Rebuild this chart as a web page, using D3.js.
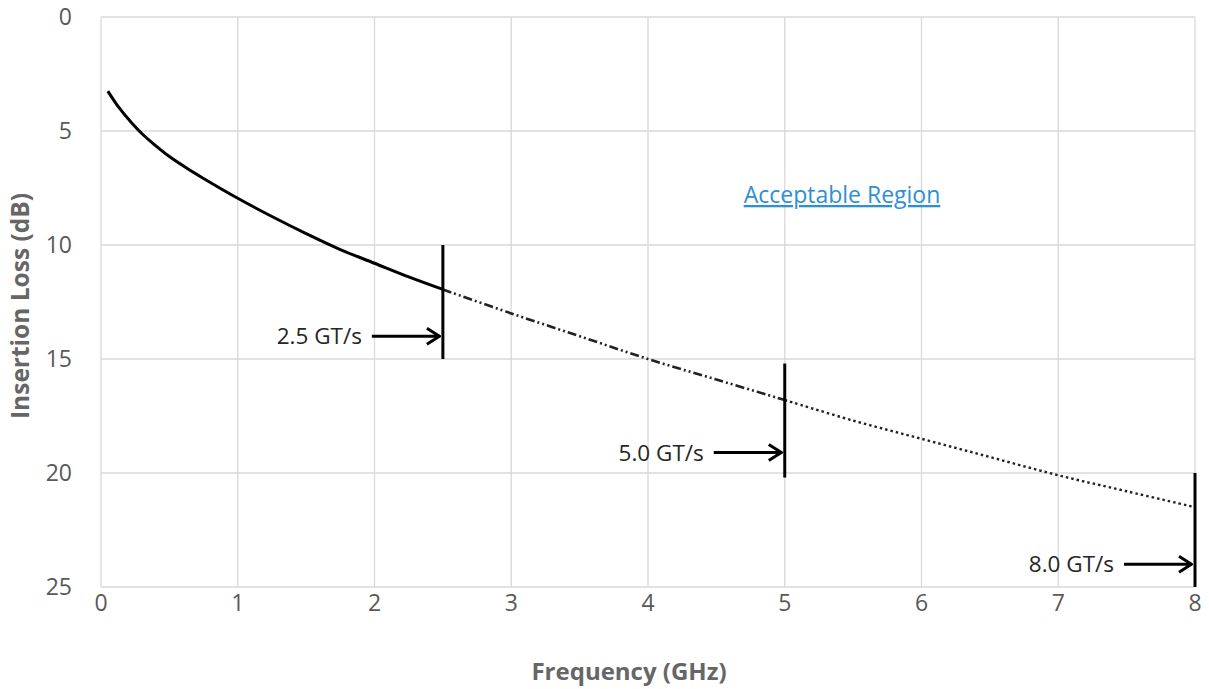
<!DOCTYPE html>
<html>
<head>
<meta charset="utf-8">
<script src="https://cdn.jsdelivr.net/npm/d3@7"></script>
<style>
  body { margin: 0; background: #fff; }
  text { font-family: "Open Sans", "Noto Sans", sans-serif; }
</style>
</head>
<body>
<div id="chart"></div>
<script>
// Insertion loss curve (GHz, dB)
var freq = [0.05, 0.125, 0.225, 0.3, 0.375, 0.5, 0.625, 0.75, 1, 1.25, 1.5, 1.75, 2, 2.25, 2.5,
            3, 3.5, 4, 4.5, 5, 5.5, 6, 6.5, 7, 7.5, 8];
var loss = [3.25, 3.92, 4.65, 5.12, 5.52, 6.12, 6.62, 7.08, 7.95, 8.75, 9.5, 10.2, 10.8, 11.4, 11.95,
            13.0, 14.0, 15.0, 15.9, 16.8, 17.7, 18.5, 19.3, 20.1, 20.8, 21.5];

// Data rate markers: position, vertical extent, arrow level, label
var rates = ["2.5 GT/s", "5.0 GT/s", "8.0 GT/s"];
var rateFreq = [2.5, 5, 8];
var rateTop = [10, 15.2, 20];
var rateBottom = [15, 20.2, 25];
var rateArrow = [14, 19.1, 24];

var xTicks = [0, 1, 2, 3, 4, 5, 6, 7, 8];
var yTicks = [0, 5, 10, 15, 20, 25];

var width = 1209, height = 689;
var padLeft = 101, padRight = 1195, padTop = 17, padBottom = 587;

var svg = d3.select("#chart").append("svg")
	.attr("width", width)
	.attr("height", height);

var x = d3.scaleLinear().domain([0, 8]).range([padLeft, padRight]);
var y = d3.scaleLinear().domain([0, 25]).range([padTop, padBottom]);

// Grid
svg.append("g").selectAll("line").data(xTicks).enter().append("line")
	.attr("x1", function(d) { return x(d); }).attr("x2", function(d) { return x(d); })
	.attr("y1", padTop).attr("y2", padBottom)
	.attr("stroke", "#d9d9d9").attr("stroke-width", 1.3);
svg.append("g").selectAll("line").data(yTicks).enter().append("line")
	.attr("x1", padLeft).attr("x2", padRight)
	.attr("y1", function(d) { return y(d); }).attr("y2", function(d) { return y(d); })
	.attr("stroke", "#d9d9d9").attr("stroke-width", 1.3);

// Tick labels
svg.append("g").selectAll("text").data(yTicks).enter().append("text")
	.attr("x", 72).attr("y", function(d) { return y(d); })
	.attr("dy", "0.36em").attr("text-anchor", "end")
	.attr("font-size", 23).attr("fill", "#595959")
	.text(function(d) { return d; });
svg.append("g").selectAll("text").data(xTicks).enter().append("text")
	.attr("x", function(d) { return x(d); }).attr("y", 611)
	.attr("text-anchor", "middle")
	.attr("font-size", 23).attr("fill", "#595959")
	.text(function(d) { return d; });

// Axis titles
svg.append("text")
	.attr("x", 629).attr("y", 680)
	.attr("text-anchor", "middle").attr("font-size", 24).attr("font-weight", "bold")
	.attr("fill", "#666").text("Frequency (GHz)");
svg.append("text")
	.attr("transform", "translate(29,306) rotate(-90)")
	.attr("text-anchor", "middle").attr("font-size", 24.5).attr("font-weight", "bold")
	.attr("fill", "#666").text("Insertion Loss (dB)");

// Curve in three styled segments
var pts = freq.map(function(f, i) { return [f, loss[i]]; });
var line = d3.line().x(function(d) { return x(d[0]); }).y(function(d) { return y(d[1]); })
	.curve(d3.curveCatmullRom.alpha(0.5));
var segs = [
	{ lo: 0, hi: 2.5, dash: null, w: 3 },
	{ lo: 2.5, hi: 5, dash: "9,3,2,3,2,3", w: 2.6 },
	{ lo: 5, hi: 8, dash: "2.5,3", w: 2.4 }
];
segs.forEach(function(s) {
	svg.append("path")
		.datum(pts.filter(function(p) { return p[0] >= s.lo && p[0] <= s.hi; }))
		.attr("d", line)
		.attr("fill", "none")
		.attr("stroke", s.dash ? "#222" : "#000")
		.attr("stroke-width", s.w)
		.attr("stroke-dasharray", s.dash);
});

// Markers
svg.append("defs").append("marker")
	.attr("id", "arr").attr("viewBox", "0 0 16 20")
	.attr("refX", 15).attr("refY", 10)
	.attr("markerWidth", 16).attr("markerHeight", 20)
	.attr("markerUnits", "userSpaceOnUse").attr("orient", "auto")
	.append("path").attr("d", "M2,2 L14.5,10 L2,18")
	.attr("fill", "none").attr("stroke", "#000").attr("stroke-width", 3);

rates.forEach(function(r, i) {
	var fx = x(rateFreq[i]);
	svg.append("line")
		.attr("x1", fx).attr("x2", fx)
		.attr("y1", y(rateTop[i])).attr("y2", y(rateBottom[i]))
		.attr("stroke", "#000").attr("stroke-width", 3);
	svg.append("line")
		.attr("x1", fx - 71).attr("x2", fx - 3)
		.attr("y1", y(rateArrow[i])).attr("y2", y(rateArrow[i]))
		.attr("stroke", "#000").attr("stroke-width", 3)
		.attr("marker-end", "url(#arr)");
	svg.append("text")
		.attr("x", fx - 81).attr("y", y(rateArrow[i]))
		.attr("dy", "0.36em").attr("text-anchor", "end")
		.attr("font-size", 22.5).attr("fill", "#262626")
		.text(r);
});

// Region label
svg.append("text")
	.attr("x", 842).attr("y", 203)
	.attr("text-anchor", "middle").attr("font-size", 23)
	.attr("fill", "#2e8fd4").attr("text-decoration", "underline")
	.text("Acceptable Region");
</script>
</body>
</html>
